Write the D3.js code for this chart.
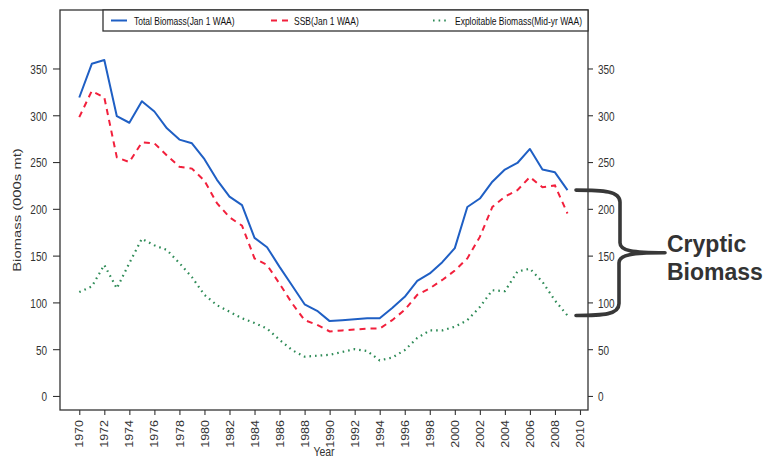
<!DOCTYPE html>
<html>
<head>
<meta charset="utf-8">
<script src="https://cdn.jsdelivr.net/npm/d3@7"></script>
<style>
  html, body { margin: 0; padding: 0; background: #fff; }
  svg { display: block; font-family: "Liberation Sans", Arial, sans-serif; }
</style>
</head>
<body>
<svg id="chart" width="769" height="463"></svg>
<script>
// ---- data ----
const years = d3.range(1970, 2010);
const totalBiomass = [319, 355, 359, 299, 292, 315, 304, 286, 274, 270,
                      253, 231, 213, 204, 169, 159, 138, 118, 98, 91,
                      80, 81, 82, 83, 83, 94, 106, 123, 131, 143,
                      158, 202, 211, 229, 242, 249, 264, 242, 239, 220];
const ssb = [298, 326, 319, 255, 250, 271, 270, 257, 245, 243,
             230, 206, 191, 182, 147, 140, 120, 99, 81, 76,
             69, 70, 71, 72, 72, 81, 92, 108, 115, 124,
             134, 147, 170, 202, 213, 220, 234, 223, 225, 195];
const exploitable = [111, 117, 140, 115, 142, 168, 161, 156, 142, 127,
                     108, 97, 90, 83, 78, 72, 60, 49, 42, 43,
                     44, 47, 50, 48, 38, 41, 49, 62, 70, 70,
                     74, 81, 95, 113, 112, 133, 136, 122, 102, 86];
const yTickValues = [0, 50, 100, 150, 200, 250, 300, 350];
const xTickValues = d3.range(1970, 2011, 2);
const legendLabels = ["Total Biomass(Jan 1 WAA)", "SSB(Jan 1 WAA)", "Exploitable Biomass(Mid-yr WAA)"];
const annotationLines = ["Cryptic", "Biomass"];

// ---- layout ----
const box = {left: 60, right: 588, top: 10, bottom: 410};
const K = 1.35; // vertical stretch of the source picture's text
const ink = "#333";
const colors = {total: "#1f5fc4", ssb: "#f2203c", expl: "#2e8b57"};

const svg = d3.select("#chart");
const x = d3.scaleLinear().domain([1968.46, 2010.64]).range([box.left, box.right]);
const y = d3.scaleLinear().domain([-15, 412.5]).range([box.bottom, box.top]);

// left axis
const gl = svg.append("g").attr("transform", `translate(${box.left},0)`)
  .call(d3.axisLeft(y).tickValues(yTickValues).tickSize(7).tickPadding(6).tickSizeOuter(0));
gl.select(".domain").remove();
gl.selectAll("line").attr("stroke", ink).attr("stroke-width", 1.1);
gl.selectAll("text").attr("fill", ink).style("font-size", "10px")
  .attr("dy", "0.36em").attr("transform", `scale(1,${K})`);

// right axis
const gr = svg.append("g").attr("transform", `translate(${box.right},0)`)
  .call(d3.axisRight(y).tickValues(yTickValues).tickSize(5).tickPadding(5).tickSizeOuter(0));
gr.select(".domain").remove();
gr.selectAll("line").attr("stroke", ink).attr("stroke-width", 1.1);
gr.selectAll("text").attr("fill", ink).style("font-size", "10px")
  .attr("dy", "0.36em").attr("transform", `scale(1,${K})`);

// bottom axis
const gb = svg.append("g").attr("transform", `translate(0,${box.bottom})`)
  .call(d3.axisBottom(x).tickValues(xTickValues).tickFormat(d3.format("d")).tickSize(5).tickSizeOuter(0));
gb.select(".domain").remove();
gb.selectAll("line").attr("stroke", ink).attr("stroke-width", 1.1);
gb.selectAll("text").attr("fill", ink).style("font-size", "10px")
  .attr("text-anchor", "end")
  .attr("x", -10 / 1.25).attr("y", 0).attr("dy", "0.36em")
  .attr("transform", `rotate(-90) scale(1.25,1)`);

// plot box
svg.append("rect")
  .attr("x", box.left).attr("y", box.top)
  .attr("width", box.right - box.left).attr("height", box.bottom - box.top)
  .attr("fill", "none").attr("stroke", ink).attr("stroke-width", 1.3);

// axis titles
svg.append("text")
  .attr("transform", `translate(21,210) rotate(-90) scale(${K},1)`)
  .attr("text-anchor", "middle").attr("fill", ink)
  .style("font-size", "11px").text("Biomass (000s mt)");
svg.append("text")
  .attr("transform", `translate(${(box.left + box.right) / 2},452) scale(1,1.2)`)
  .attr("text-anchor", "middle").attr("dy", "0.35em").attr("fill", ink)
  .style("font-size", "10.5px").text("Year");

// series lines
const line = d3.line().x((d, i) => x(years[i])).y(d => y(d));
svg.append("path").datum(exploitable).attr("d", line)
  .attr("fill", "none").attr("stroke", colors.expl).attr("stroke-width", 2.2)
  .attr("stroke-dasharray", "1.6,4").attr("stroke-linecap", "butt");
svg.append("path").datum(ssb).attr("d", line)
  .attr("fill", "none").attr("stroke", colors.ssb).attr("stroke-width", 2)
  .attr("stroke-dasharray", "6,5");
svg.append("path").datum(totalBiomass).attr("d", line)
  .attr("fill", "none").attr("stroke", colors.total).attr("stroke-width", 2)
  .attr("stroke-linejoin", "round");

// legend
const lg = svg.append("g");
lg.append("rect").attr("x", 103).attr("y", box.top).attr("width", box.right - 103).attr("height", 21)
  .attr("fill", "#fff").attr("stroke", ink).attr("stroke-width", 1.3);
const legendItems = [
  {x0: 111, x1: 127, tx: 134, color: colors.total, dash: null, w: 2},
  {x0: 271, x1: 289, tx: 294, color: colors.ssb, dash: "6,5", w: 2},
  {x0: 433, x1: 448, tx: 455, color: colors.expl, dash: "1.6,4", w: 2.2}
];
legendItems.forEach((it, i) => {
  const ly = 20.5;
  const l = lg.append("line").attr("x1", it.x0).attr("x2", it.x1).attr("y1", ly).attr("y2", ly)
    .attr("stroke", it.color).attr("stroke-width", it.w);
  if (it.dash) l.attr("stroke-dasharray", it.dash);
  lg.append("text").attr("transform", `translate(${it.tx},${ly}) scale(1,${K})`)
    .attr("dy", "0.35em").attr("fill", "#111").style("font-size", "8.5px").text(legendLabels[i]);
});

// cryptic biomass brace (from total to exploitable biomass in the last year)
const last = years.length - 1;
const yTop = y(totalBiomass[last]);
const yBot = y(exploitable[last]);
const yMid = (yTop + yBot) / 2;
const bp = d3.path();
bp.moveTo(576, yTop);
bp.bezierCurveTo(604, yTop, 620, yTop + 1, 620, yTop + 12);
bp.lineTo(620, yMid - 10);
bp.bezierCurveTo(620, yMid - 2, 632, yMid, 665, yMid);
bp.bezierCurveTo(632, yMid, 619, yMid + 2, 619, yMid + 10);
bp.lineTo(619, yBot - 12);
bp.bezierCurveTo(619, yBot - 1, 604, yBot, 576, yBot);
svg.append("path").attr("d", bp.toString())
  .attr("fill", "none").attr("stroke", "#383838").attr("stroke-width", 3.6)
  .attr("stroke-linecap", "round").attr("stroke-linejoin", "round");

svg.append("text").attr("x", 667).attr("y", 252).attr("fill", "#333")
  .style("font-size", "23px").style("font-weight", "bold").text(annotationLines[0]);
svg.append("text").attr("x", 667).attr("y", 280).attr("fill", "#333")
  .style("font-size", "23px").style("font-weight", "bold").text(annotationLines[1]);
</script>
</body>
</html>
